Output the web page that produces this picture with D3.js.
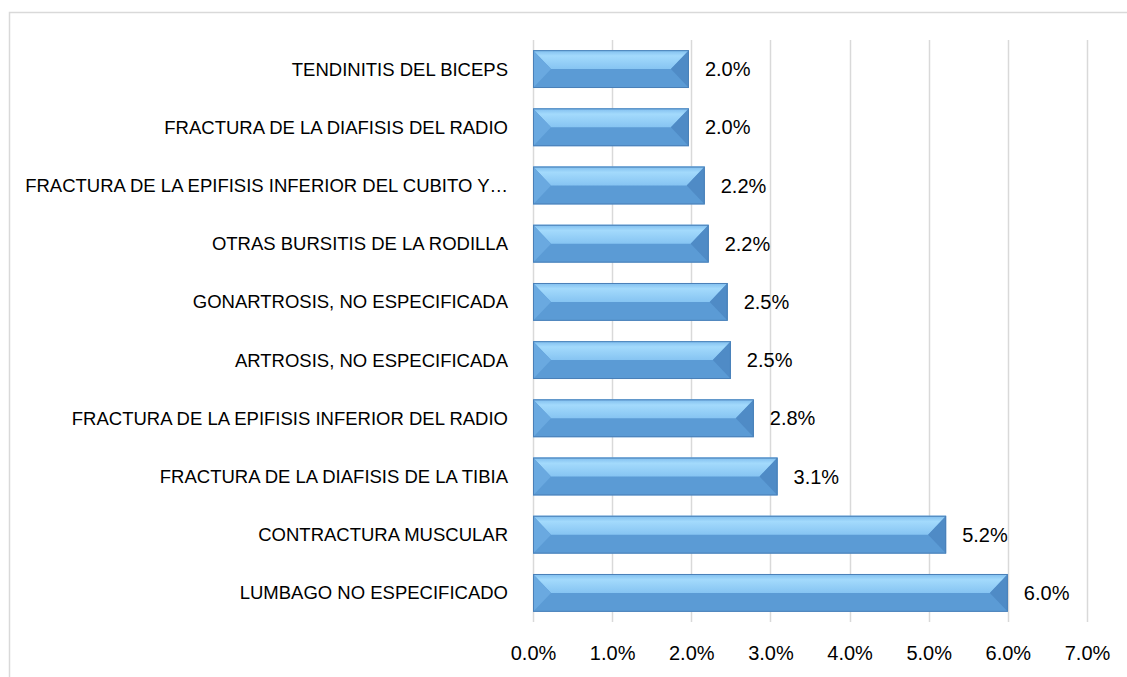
<!DOCTYPE html>
<html>
<head>
<meta charset="utf-8">
<script src="https://cdn.jsdelivr.net/npm/d3@7"></script>
<style>
  body { margin: 0; background: #fff; }
  text { font-family: "Liberation Sans", Arial, sans-serif; fill: #000; }
</style>
</head>
<body>
<svg width="1127" height="677"></svg>
<script>
// data, top to bottom
const categories = [
  "TENDINITIS DEL BICEPS",
  "FRACTURA DE LA DIAFISIS DEL RADIO",
  "FRACTURA DE LA EPIFISIS INFERIOR DEL CUBITO Y…",
  "OTRAS BURSITIS DE LA RODILLA",
  "GONARTROSIS, NO ESPECIFICADA",
  "ARTROSIS, NO ESPECIFICADA",
  "FRACTURA DE LA EPIFISIS INFERIOR DEL RADIO",
  "FRACTURA DE LA DIAFISIS DE LA TIBIA",
  "CONTRACTURA MUSCULAR",
  "LUMBAGO NO ESPECIFICADO"
];
const values = [0.0197, 0.0197, 0.0217, 0.0222, 0.0246, 0.0250, 0.0279, 0.0309, 0.0522, 0.0600];
const xTicks = [0, 0.01, 0.02, 0.03, 0.04, 0.05, 0.06, 0.07];

const data = categories.map((c, i) => ({ name: c, value: values[i] }));

const svg = d3.select("svg");

// chart frame (runs off the picture on right and bottom)
svg.append("rect")
  .attr("x", 9.5).attr("y", 12.5)
  .attr("width", 1140).attr("height", 700)
  .attr("fill", "none")
  .attr("stroke", "#d9d9d9")
  .attr("stroke-width", 1.5);

const x = d3.scaleLinear().domain([0, 0.07]).range([533, 1087]);
const y = d3.scaleBand().domain(categories).range([40, 622])
  .paddingInner(0.35).paddingOuter(0.175);

// gridlines
svg.append("g")
  .selectAll("line")
  .data(xTicks)
  .join("line")
  .attr("x1", d => Math.round(x(d)) + 0.5)
  .attr("x2", d => Math.round(x(d)) + 0.5)
  .attr("y1", 40).attr("y2", 622)
  .attr("stroke", "#d9d9d9")
  .attr("stroke-width", 1.5);

// x axis labels
const xAxis = d3.axisBottom(x)
  .tickValues(xTicks)
  .tickFormat(d3.format(".1%"))
  .tickSize(0)
  .tickPadding(0);

const xAxisG = svg.append("g")
  .attr("transform", "translate(0,622)")
  .call(xAxis);
xAxisG.select(".domain").remove();
xAxisG.selectAll("text")
  .attr("y", 31)
  .attr("dy", "0.35em")
  .attr("font-size", 20)
  .style("font-family", "Liberation Sans, Arial, sans-serif")
  .attr("fill", "#000");

// category labels
svg.append("g")
  .selectAll("text")
  .data(data)
  .join("text")
  .attr("x", 508)
  .attr("y", d => y(d.name) + y.bandwidth() / 2)
  .attr("dy", "0.35em")
  .attr("text-anchor", "end")
  .attr("font-size", 18.5)
  .text(d => d.name);

// gradients for the bevelled bars
const defs = svg.append("defs");
const topGrad = defs.append("linearGradient")
  .attr("id", "topGrad").attr("x1", 0).attr("y1", 0).attr("x2", 0).attr("y2", 1);
topGrad.append("stop").attr("offset", "0%").attr("stop-color", "#7fbdee");
topGrad.append("stop").attr("offset", "30%").attr("stop-color", "#a3dafc");
topGrad.append("stop").attr("offset", "100%").attr("stop-color", "#86c4f2");

const bh = y.bandwidth();
const bev = 18;

const barG = svg.append("g")
  .selectAll("g")
  .data(data)
  .join("g")
  .attr("transform", d => `translate(${x(0)},${y(d.name)})`);

// base (lower half colour)
barG.append("rect")
  .attr("width", d => x(d.value) - x(0))
  .attr("height", bh)
  .attr("fill", "#5b9bd5");

// upper light half
barG.append("path")
  .attr("d", d => {
    const w = x(d.value) - x(0);
    return `M0,0 L${w},0 L${w - bev},${bh / 2} L${bev},${bh / 2} Z`;
  })
  .attr("fill", "url(#topGrad)");

// left bevel
barG.append("path")
  .attr("d", `M0,0 L${bev},${bh / 2} L0,${bh} Z`)
  .attr("fill", "#6aa9e0");

// right bevel (darker)
barG.append("path")
  .attr("d", d => {
    const w = x(d.value) - x(0);
    return `M${w},0 L${w},${bh} L${w - bev},${bh / 2} Z`;
  })
  .attr("fill", "#4f8bc6");

// outline
barG.append("rect")
  .attr("x", 0.5).attr("y", 0.5)
  .attr("width", d => x(d.value) - x(0) - 1)
  .attr("height", bh - 1)
  .attr("fill", "none")
  .attr("stroke", "#4a80b8")
  .attr("stroke-width", 1);

// value labels
svg.append("g")
  .selectAll("text")
  .data(data)
  .join("text")
  .attr("x", d => x(d.value) + 16)
  .attr("y", d => y(d.name) + bh / 2)
  .attr("dy", "0.35em")
  .attr("font-size", 20)
  .text(d => d3.format(".1%")(d.value));
</script>
</body>
</html>
